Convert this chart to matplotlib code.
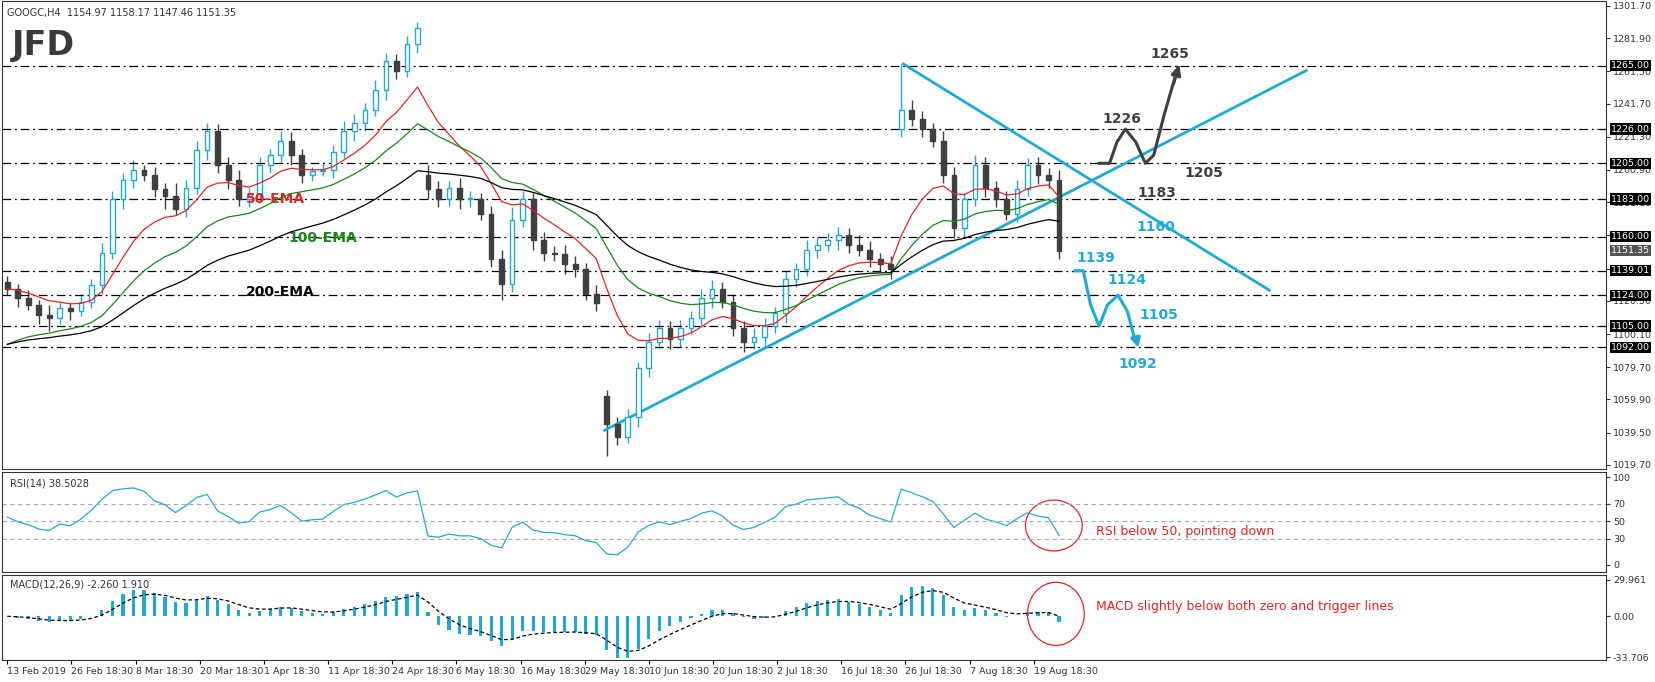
import matplotlib
matplotlib.use("Agg")
import matplotlib.pyplot as plt
import numpy as np
import pandas as pd
from matplotlib.patches import Ellipse

closes = [1128,1122,1118,1112,1110,1116,1114,1120,1130,1150,1183,
          1195,1201,1198,1189,1185,1177,1190,1213,1225,1204,
          1195,1183,1186,1204,1210,1219,1210,1198,1200,1201,
          1212,1225,1230,1238,1250,1268,1262,1278,1288,1189,
          1183,1190,1183,1183,1174,1146,1131,1170,1183,1158,
          1150,1149,1143,1140,1125,1119,1045,1037,1049,1079,
          1095,1104,1097,1104,1110,1122,1128,1120,1104,1095,
          1098,1105,1113,1134,1140,1152,1155,1158,1161,1155,
          1152,1146,1143,1140,1238,1232,1226,1219,1198,1165,
          1183,1204,1190,1183,1174,1189,1204,1198,1195,1151.35]
first_open = 1132
gap_idx = [40, 57, 85]
gap_open = [1198, 1062, 1226]
hi_ext = [4,3,5,3,6,4,3,5,4,6,5,4,6,3,5,4,8,5,6,5,4,5,6,4,5,4,6,5,4,3,
          5,4,6,5,4,6,5,4,5,4,6,5,4,6,5,4,5,6,8,5,4,5,4,6,5,4,5,4,4,5,
          4,6,5,4,5,4,6,5,4,5,4,6,5,4,5,4,6,5,4,5,4,6,5,4,5,28,6,5,4,6,
          5,4,6,5,4,5,6,4,5,4,6]
lo_ext = [4,5,3,6,8,4,5,3,4,5,4,6,5,4,5,8,4,5,4,6,5,6,4,5,4,5,4,6,5,4,
          3,5,4,6,5,4,6,5,4,5,6,5,4,6,5,4,5,10,5,4,6,5,4,6,5,4,5,20,5,4,
          6,5,4,6,5,4,5,6,4,5,6,4,5,4,6,5,4,5,4,6,5,4,5,4,6,5,4,5,4,5,
          6,5,4,6,5,4,5,4,6,5,5]
date_labels = ["13 Feb 2019","26 Feb 18:30","8 Mar 18:30","20 Mar 18:30","1 Apr 18:30",
               "11 Apr 18:30","24 Apr 18:30","6 May 18:30","16 May 18:30","29 May 18:30",
               "10 Jun 18:30","20 Jun 18:30","2 Jul 18:30","16 Jul 18:30","26 Jul 18:30",
               "7 Aug 18:30","19 Aug 18:30"]
price_ticks = [1301.70,1281.90,1261.50,1241.70,1221.30,1200.90,1181.10,1160.70,1140.30,
               1120.50,1100.10,1079.70,1059.90,1039.50,1019.70]
levels = [1265.00,1226.00,1205.00,1183.00,1160.00,1139.01,1124.00,1105.00,1092.00]
last_price = 1151.35

BLUE = "#1fa9d6"
DARK = "#3f3f3f"
n = len(closes)
opens = [first_open] + closes[:-1]
for gi, go in zip(gap_idx, gap_open):
    opens[gi] = go
highs = [max(o, c) + h for o, c, h in zip(opens, closes, hi_ext)]
lows = [min(o, c) - l for o, c, l in zip(opens, closes, lo_ext)]
x = np.arange(n)
s = pd.Series(closes)
ema50 = s.ewm(span=10, adjust=False).mean()
ema100 = pd.concat([pd.Series([1090.0]), s]).ewm(span=20, adjust=False).mean().iloc[1:].reset_index(drop=True)
ema200 = pd.concat([pd.Series([1092.0]), s]).ewm(span=38, adjust=False).mean().iloc[1:].reset_index(drop=True)
d = s.diff().fillna(0)
upd = pd.concat([pd.Series([6.0]), d.clip(lower=0)])
dnd = pd.concat([pd.Series([5.0]), -d.clip(upper=0)])
up = upd.ewm(alpha=1/7, adjust=False).mean().iloc[1:].reset_index(drop=True)
dn = dnd.ewm(alpha=1/7, adjust=False).mean().iloc[1:].reset_index(drop=True)
rsi = 100 - 100 / (1 + up / dn.replace(0, 1e-9))
macd = s.ewm(span=5, adjust=False).mean() - s.ewm(span=11, adjust=False).mean()
sig = macd.ewm(span=4, adjust=False).mean()

W, H = 1655, 682
fig = plt.figure(figsize=(W/100, H/100), dpi=100)
L, R = 2/W, 1606/W
def ax_at(top, bot):
    return fig.add_axes([L, 1-bot/H, R-L, (bot-top)/H])
ax = ax_at(1, 469)
ar = ax_at(472, 572)
am = ax_at(575, 660)
XL = (-0.5, 152.0)
for a in (ax, ar, am):
    a.set_xlim(*XL)
    a.yaxis.tick_right()
    a.tick_params(axis='y', labelsize=6.8, length=3, colors='#333333', pad=2)
    a.set_xticks([])
    for sp in a.spines.values():
        sp.set_color('#333333'); sp.set_linewidth(0.8)

for i in range(n):
    o, c, h, l = opens[i], closes[i], highs[i], lows[i]
    col = BLUE if c >= o else DARK
    ax.vlines(x[i], l, h, color=col, lw=1)
    ax.bar(x[i], max(abs(c-o), 0.6), bottom=min(o, c), width=0.45,
           color='white' if c >= o else DARK, edgecolor=col, lw=1, zorder=3)
ax.plot(x, ema50, color='#e8231f', lw=0.9, zorder=4)
ax.plot(x, ema100, color='#138a13', lw=0.9, zorder=4)
ax.plot(x, ema200, color='black', lw=0.9, zorder=4)
ax.set_ylim(1019.7 - 2.5, 1301.7 + 3)
ax.set_yticks(price_ticks)
ax.set_yticklabels([f"{p:.2f}" for p in price_ticks])
for lv in levels:
    ax.axhline(lv, color='black', lw=0.9, dashes=(7, 3, 1.5, 3))
    ax.text(1.003, lv, f"{lv:.2f}", transform=ax.get_yaxis_transform(), fontsize=6.8,
            color='white', va='center', ha='left',
            bbox=dict(boxstyle='square,pad=0.12', fc='black', ec='none'))
ax.text(1.003, last_price, f"{last_price:.2f}", transform=ax.get_yaxis_transform(), fontsize=6.8,
        color='white', va='center', ha='left',
        bbox=dict(boxstyle='square,pad=0.12', fc='#555555', ec='none'))

ax.plot([85.2, 120], [1266, 1127], color=BLUE, lw=2)
ax.plot([56.8, 123.5], [1041, 1262], color=BLUE, lw=2)
bx = [103.8, 104.8, 105.5, 106.3, 107.3, 108.2, 109.0, 110.0, 111.3]
by = [1205, 1205, 1218, 1226, 1218, 1205, 1210, 1235, 1264]
ax.plot(bx, by, color=DARK, lw=2.2)
ax.annotate('', xy=(111.5, 1267), xytext=(110.8, 1252),
            arrowprops=dict(arrowstyle='-|>', color=DARK, lw=2.2, mutation_scale=14))
cx = [101.5, 102.3, 103.0, 103.8, 104.6, 105.6, 106.5, 107.2]
cy = [1139, 1139, 1118, 1105, 1118, 1124, 1114, 1097]
ax.plot(cx, cy, color=BLUE, lw=2.2)
ax.annotate('', xy=(107.6, 1090), xytext=(107.2, 1100),
            arrowprops=dict(arrowstyle='-|>', color=BLUE, lw=2.2, mutation_scale=14))
for t, xx, yy, c in [("1265", 110.5, 1272, DARK), ("1226", 106.0, 1232, DARK),
                     ("1205", 113.8, 1199, DARK), ("1183", 109.3, 1187, DARK),
                     ("1160", 109.2, 1166, BLUE), ("1139", 103.5, 1147, BLUE),
                     ("1124", 106.5, 1133, BLUE), ("1105", 109.5, 1112, BLUE),
                     ("1092", 107.5, 1082, BLUE)]:
    ax.text(xx, yy, t, color=c, fontsize=10, fontweight='bold', ha='center', va='center')
ax.text(25.5, 1183, "50-EMA", color='#e8231f', fontsize=10, fontweight='bold', ha='center', va='center')
ax.text(30, 1159, "100-EMA", color='#138a13', fontsize=10, fontweight='bold', ha='center', va='center')
ax.text(26, 1126, "200-EMA", color='black', fontsize=10, fontweight='bold', ha='center', va='center')
ax.text(0.003, 0.985, "GOOGC,H4  1154.97 1158.17 1147.46 1151.35", transform=ax.transAxes,
        fontsize=7, color='#333333', va='top')
ax.text(0.006, 0.94, "JFD", transform=ax.transAxes, fontsize=24, fontweight='bold',
        color='#3a3a3a', va='top')

ar.plot(x, rsi, color=BLUE, lw=0.9)
ar.set_ylim(-8, 106)
ar.set_yticks([100, 70, 50, 30, 0])
for lv in (70, 50, 30):
    ar.axhline(lv, color='#aaaaaa', lw=0.8, ls=(0, (4, 3)))
ar.text(0.005, 0.93, "RSI(14) 38.5028", transform=ar.transAxes, fontsize=7, color='#333333', va='top')
ar.add_patch(Ellipse((99.5, 45), 5.4, 58, fill=False, ec='#e8231f', lw=0.9))
ar.text(103.5, 38, "RSI below 50, pointing down", color='#e8231f', fontsize=9, va='center')

am.bar(x, macd, width=0.3, color=BLUE)
am.plot(x, sig, color='black', lw=0.9, ls=(0, (3, 2)))
am.set_ylim(-36, 34)
am.set_yticks([29.961, 0.0, -33.706])
am.set_yticklabels(["29.961", "0.00", "-33.706"])
am.text(0.005, 0.95, "MACD(12,26,9) -2.260 1.910", transform=am.transAxes, fontsize=7, color='#333333', va='top')
am.add_patch(Ellipse((99.7, 2), 5.4, 52, fill=False, ec='#e8231f', lw=0.9))
am.text(103.5, 8, "MACD slightly below both zero and trigger lines", color='#e8231f', fontsize=9, va='center')
tk = [i * 6.1 for i in range(len(date_labels))]
am.set_xticks(tk)
am.set_xticklabels(date_labels, ha='left', fontsize=6.8, color='#333333')
am.tick_params(axis='x', length=3, pad=2)

fig.savefig("out.png", dpi=100)
